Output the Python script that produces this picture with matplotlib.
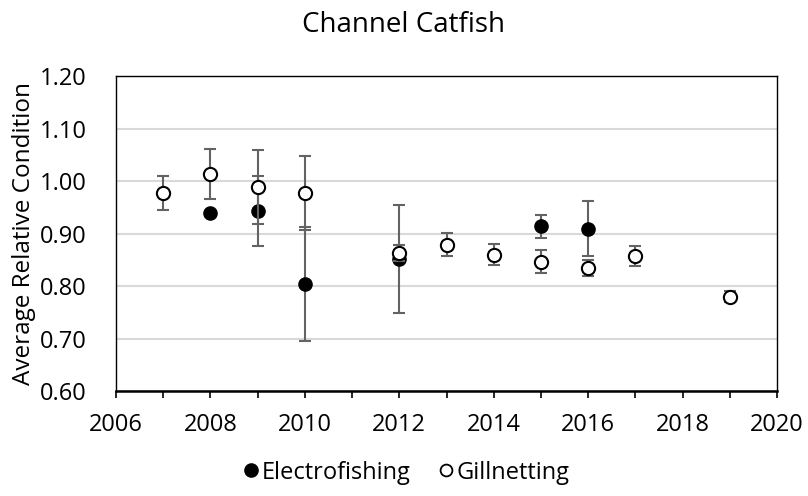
import matplotlib
matplotlib.use("Agg")
import matplotlib.pyplot as plt
from matplotlib.lines import Line2D
from matplotlib.ticker import MultipleLocator, FormatStrFormatter

plt.rcParams['font.family'] = ['Open Sans', 'DejaVu Sans']

# Electrofishing
elec_years = [2008, 2009, 2010, 2012, 2015, 2016]
elec_vals = [0.940, 0.943, 0.804, 0.851, 0.914, 0.909]
elec_err = [0.0, 0.066, 0.108, 0.103, 0.022, 0.052]

# Gillnetting
gill_years = [2007, 2008, 2009, 2010, 2012, 2013, 2014, 2015, 2016, 2017, 2019]
gill_vals = [0.977, 1.013, 0.989, 0.977, 0.863, 0.879, 0.860, 0.846, 0.834, 0.857, 0.780]
gill_err = [0.033, 0.048, 0.071, 0.070, 0.015, 0.022, 0.020, 0.022, 0.015, 0.019, 0.010]

fig = plt.figure(figsize=(8.08, 4.96), dpi=100)
ax = fig.add_axes([0.1436, 0.2117, 0.818, 0.635])

err_style = dict(ecolor='#636363', elinewidth=1.5, capsize=4, capthick=1.5, ls='none')
ax.errorbar(elec_years, elec_vals, yerr=elec_err, fmt='o', ms=9.5,
            mfc='black', mec='black', zorder=3, **err_style)
ax.errorbar(gill_years, gill_vals, yerr=gill_err, fmt='o', ms=9.5,
            mfc='white', mec='black', mew=1.5, zorder=4, **err_style)

ax.set_xlim(2006, 2020)
ax.set_ylim(0.60, 1.20)
ax.xaxis.set_major_locator(MultipleLocator(2))
ax.xaxis.set_minor_locator(MultipleLocator(1))
ax.yaxis.set_major_locator(MultipleLocator(0.1))
ax.yaxis.set_major_formatter(FormatStrFormatter('%.2f'))
ax.tick_params(axis='x', which='both', direction='out', length=5, width=1.2, labelsize=17, pad=11)
ax.tick_params(axis='y', length=0, labelsize=17, pad=21)
ax.grid(axis='y', color='#d9d9d9', lw=1.5)
ax.set_axisbelow(True)
for s in ax.spines.values():
    s.set_color('black')
    s.set_linewidth(1)
ax.spines['bottom'].set_linewidth(1.8)

ax.set_ylabel('Average Relative Condition', fontsize=17.5, labelpad=3)
fig.suptitle('Channel Catfish', fontsize=20, y=0.978)

handles = [
    Line2D([], [], marker='o', ls='none', mfc='black', mec='black', ms=9.5, label='Electrofishing'),
    Line2D([], [], marker='o', ls='none', mfc='white', mec='black', mew=1.3, ms=8.5, label='Gillnetting'),
]
fig.legend(handles=handles, loc='center', bbox_to_anchor=(0.503, 0.047), ncol=2,
           frameon=False, fontsize=17, handletextpad=0.15, columnspacing=1.2,
           handlelength=0.6)

fig.savefig('out.png', dpi=100)
